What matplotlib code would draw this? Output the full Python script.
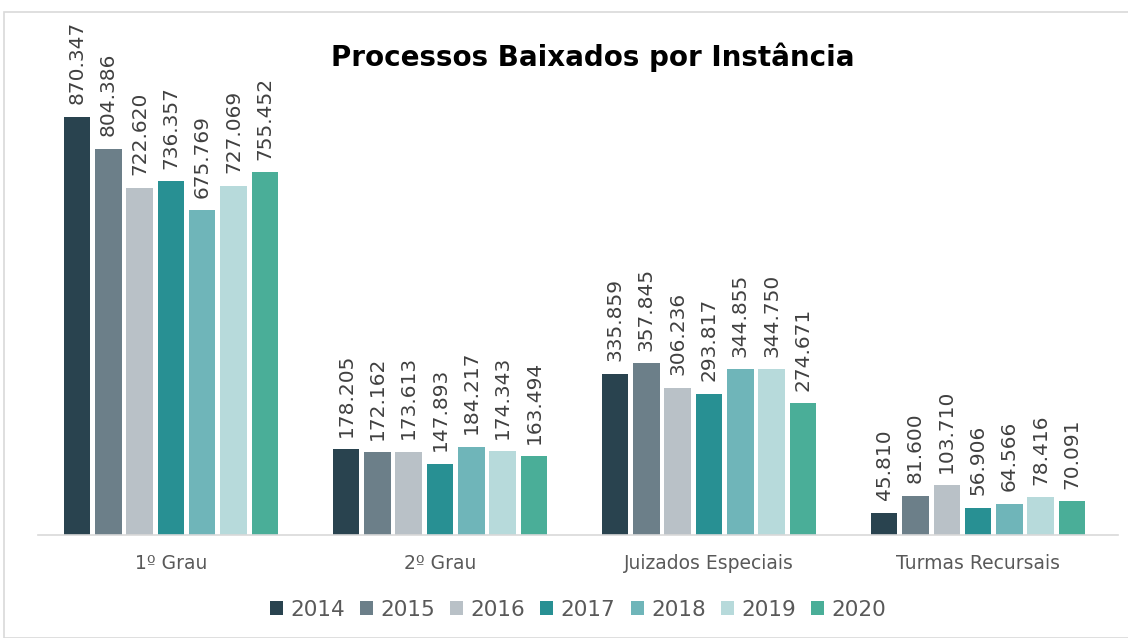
import numpy as np
import matplotlib.pyplot as plt
from matplotlib.patches import Rectangle

categorias = ['1º Grau', '2º Grau', 'Juizados Especiais', 'Turmas Recursais']
anos = ['2014', '2015', '2016', '2017', '2018', '2019', '2020']
valores = {
    '2014': [870347, 178205, 335859, 45810],
    '2015': [804386, 172162, 357845, 81600],
    '2016': [722620, 173613, 306236, 103710],
    '2017': [736357, 147893, 293817, 56906],
    '2018': [675769, 184217, 344855, 64566],
    '2019': [727069, 174343, 344750, 78416],
    '2020': [755452, 163494, 274671, 70091],
}
cores = ['#29434f', '#6c7f89', '#b9c1c7', '#289093', '#6fb5b9', '#b7dadb', '#4aae98']


def fmt(v):
    return f'{v:,}'.replace(',', '.')


fig = plt.figure(figsize=(11.28, 6.38), dpi=100)
ax = fig.add_axes([38 / 1128, 1 - 535 / 638, (1118 - 38) / 1128, (535 - 20) / 638])

x = np.arange(len(categorias))
passo = 0.1164
larg = 0.0985
for i, ano in enumerate(anos):
    pos = x + (i - 3) * passo
    barras = ax.bar(pos, valores[ano], width=larg, color=cores[i], label=ano, zorder=2)
    for b, v in zip(barras, valores[ano]):
        ax.annotate(fmt(v), (b.get_x() + b.get_width() / 2, b.get_height()),
                    xytext=(0, 9), textcoords='offset points', rotation=90,
                    ha='center', va='bottom', fontsize=14.5, color='#404040')

ax.set_xlim(-0.494, 3.52)
ax.set_ylim(0, 870347 * 515 / 418)
ax.set_yticks([])
ax.set_xticks(x)
ax.set_xticklabels(categorias, fontsize=13.5, color='#595959')
ax.tick_params(axis='x', length=0, pad=14)
for s in ['top', 'right', 'left']:
    ax.spines[s].set_visible(False)
ax.spines['bottom'].set_color('#d9d9d9')
ax.spines['bottom'].set_linewidth(1.2)

fig.text(593 / 1128, 1 - 57 / 638, 'Processos Baixados por Instância',
         ha='center', va='center', fontsize=20, fontweight='bold', color='black')

ax.legend(loc='center', bbox_to_anchor=(0.5, -0.145), ncol=7, frameon=False,
          fontsize=15.5, handlelength=0.6, handleheight=0.6, handletextpad=0.35,
          columnspacing=0.7, labelcolor='#595959')

fig.patches.append(Rectangle((4 / 1128, 0), 1, 1 - 12 / 638, transform=fig.transFigure,
                             fill=False, edgecolor='#d9d9d9', linewidth=1.2))

fig.savefig('out.png', dpi=100)
